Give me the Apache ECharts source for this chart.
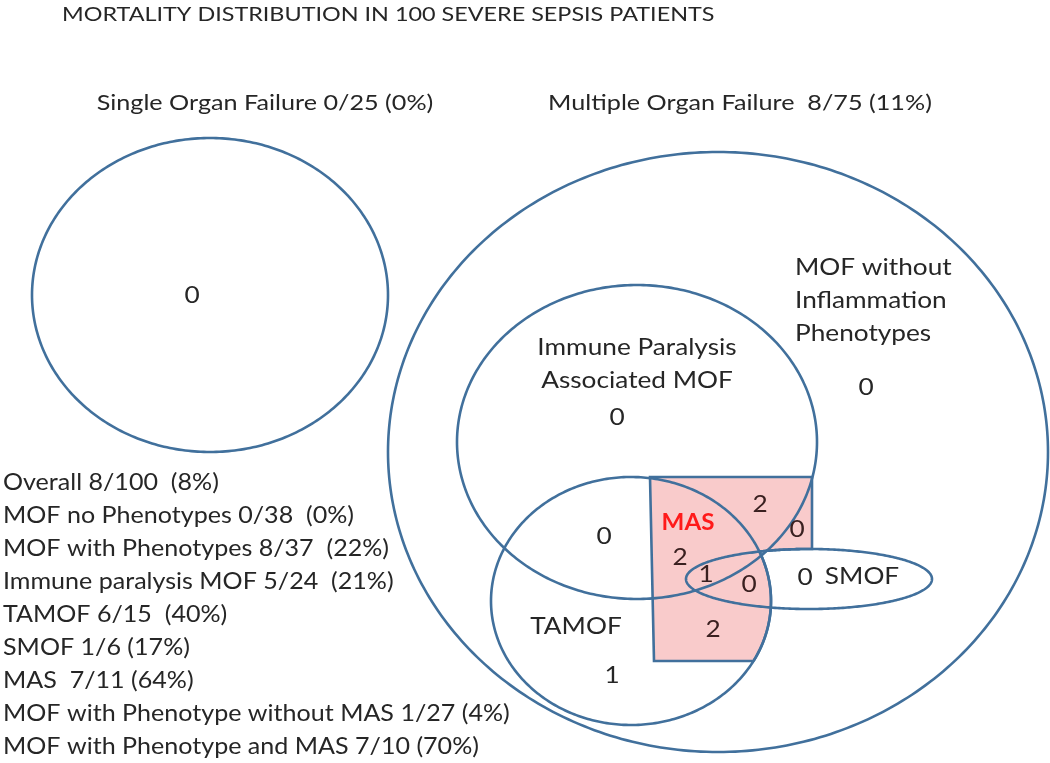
<!DOCTYPE html>
<html>
<head>
<meta charset="utf-8">
<script src="https://cdn.jsdelivr.net/npm/echarts@6/dist/echarts.min.js"></script>
<style>
html,body{margin:0;padding:0;background:#fff;}
#chart{width:1050px;height:763px;}
</style>
</head>
<body>
<div id="chart"></div>
<script>
// ---------- DATA ----------
const chartTitle = 'MORTALITY DISTRIBUTION IN 100 SEVERE SEPSIS PATIENTS';
const groupLabels = ['Single Organ Failure 0/25 (0%)', 'Multiple Organ Failure  8/75 (11%)'];
const setNames = ['Single Organ Failure', 'Multiple Organ Failure', 'Immune Paralysis Associated MOF', 'TAMOF', 'SMOF'];
const setLabels = ['MOF without\nInflammation\nPhenotypes', 'Immune Paralysis\nAssociated MOF', 'TAMOF', 'SMOF', 'MAS'];
// deaths per Venn region
const regionNames = ['SOF', 'MOF no phenotype', 'IP only', 'IP+TAMOF', 'IP+MAS', 'MAS only (right)', 'IP+TAMOF+MAS', 'IP+TAMOF+SMOF+MAS', 'TAMOF+SMOF+MAS', 'SMOF only', 'TAMOF+MAS', 'TAMOF only'];
const regionDeaths = [0, 0, 0, 0, 2, 0, 2, 1, 0, 0, 2, 1];
const statLines = [
  'Overall 8/100  (8%)',
  'MOF no Phenotypes 0/38  (0%)',
  'MOF with Phenotypes 8/37  (22%)',
  'Immune paralysis MOF 5/24  (21%)',
  'TAMOF 6/15  (40%)',
  'SMOF 1/6 (17%)',
  'MAS  7/11 (64%)',
  'MOF with Phenotype without MAS 1/27 (4%)',
  'MOF with Phenotype and MAS 7/10 (70%)'
];

// ---------- LAYOUT (diagram geometry, canvas units) ----------
const ellipseLayout = [ // cx, cy, rx, ry
  [210, 295, 178, 157],
  [718, 452, 330, 300],
  [637, 442, 180, 157],
  [631, 601, 140, 124],
  [809, 579, 123, 30]
];
const masRect = {x0: 650, x1: 812, y0: 477, y1: 661, x0b: 654};
const regionPos = [[192,296],[866,388],[617,418],[604,537],[760,505],[797,530],[680,558],[706,575],[749,585],[805,578],[713,630],[612,676]];
const setLabelPos = [[795,301,'left'],[637,364,'center'],[576,627,'center'],[862,577,'center'],[688,523,'center']];
const groupLabelPos = [[265,103],[740,103]];
const statTop = 483, statStep = 32.9;

const FONT = 'Lato, "Open Sans", sans-serif';
const TEXT = '#262626';
const LINE = '#41709c';

const chart = echarts.init(document.getElementById('chart'));

function ellipsePts(e, api, n) {
  const pts = [];
  for (let i = 0; i < n; i++) {
    const t = i / n * Math.PI * 2;
    pts.push(api.coord([e[0] + e[2] * Math.cos(t), e[1] + e[3] * Math.sin(t)]));
  }
  return pts;
}
function inside(e, x, y) {
  const dx = (x - e[0]) / e[2], dy = (y - e[1]) / e[3];
  return dx * dx + dy * dy <= 1;
}
function masPts(api) {
  const T = ellipseLayout[3], S = ellipseLayout[4];
  const pts = [[masRect.x0, masRect.y0], [masRect.x1, masRect.y0]];
  let x = masRect.x1, last = null;
  while (x > 600) {
    const dx = (x - S[0]) / S[2];
    const y = S[1] - S[3] * Math.sqrt(Math.max(0, 1 - dx * dx));
    pts.push([x, y]);
    if (inside(T, x, y)) { last = [x, y]; break; }
    x -= 0.5;
  }
  let t = Math.atan2((last[1] - T[1]) / T[3], (last[0] - T[0]) / T[2]);
  while (true) {
    const px = T[0] + T[2] * Math.cos(t), py = T[1] + T[3] * Math.sin(t);
    if (py >= masRect.y1) { pts.push([px, masRect.y1]); break; }
    pts.push([px, py]);
    t += 0.01;
  }
  pts.push([masRect.x0b, masRect.y1]);
  return pts.map(p => api.coord(p));
}
function textEl(api, text, size, sx, align, extra) {
  const p = api.coord([api.value(0), api.value(1)]);
  return {
    type: 'text', x: p[0], y: p[1], scaleX: sx,
    style: Object.assign({text: text, fontFamily: FONT, fontSize: size, fill: TEXT, align: align, verticalAlign: 'middle'}, extra || {})
  };
}

const option = {
  animation: false,
  backgroundColor: '#fff',
  grid: {left: 0, right: 0, top: 0, bottom: 0},
  xAxis: {type: 'value', min: 0, max: 1050, show: false},
  yAxis: {type: 'value', min: 0, max: 763, inverse: true, show: false},
  series: [
    { // MAS region fill
      type: 'custom', z: 1,
      data: [[0]],
      renderItem: (params, api) => ({
        type: 'polygon',
        shape: {points: masPts(api)},
        style: {fill: '#f9cbcb', stroke: LINE, lineWidth: 2.6}
      })
    },
    { // set ellipses
      type: 'custom', z: 2,
      data: setNames.map((n, i) => [i]),
      renderItem: (params, api) => ({
        type: 'polygon',
        shape: {points: ellipsePts(ellipseLayout[params.dataIndex], api, 360)},
        style: {fill: 'none', stroke: LINE, lineWidth: 2.6}
      })
    },
    { // region death counts
      type: 'custom', z: 3,
      data: regionDeaths.map((v, i) => [regionPos[i][0], regionPos[i][1], v]),
      renderItem: (params, api) => textEl(api, String(api.value(2)), 23, 1.14, 'center',
        params.dataIndex >= 4 && params.dataIndex <= 10 && params.dataIndex !== 9 ? {fill: '#3a2020'} : null)
    },
    { // set labels
      type: 'custom', z: 3,
      data: setLabels.map((s, i) => [setLabelPos[i][0], setLabelPos[i][1], i]),
      renderItem: (params, api) => {
        const i = params.dataIndex;
        const isMas = setLabels[i] === 'MAS';
        return textEl(api, setLabels[i], 23, isMas ? 1.05 : 1.14, setLabelPos[i][2],
          {fontWeight: isMas ? 'bold' : 'normal', fill: isMas ? '#ff1a1a' : TEXT, lineHeight: 33});
      }
    },
    { // group labels
      type: 'custom', z: 3,
      data: groupLabels.map((s, i) => [groupLabelPos[i][0], groupLabelPos[i][1], i]),
      renderItem: (params, api) => textEl(api, groupLabels[params.dataIndex], 22, 1.145, 'center')
    },
    { // statistics lines
      type: 'custom', z: 3,
      data: statLines.map((s, i) => [3, statTop + i * statStep, i]),
      renderItem: (params, api) => textEl(api, statLines[params.dataIndex], 23, 1.09, 'left')
    },
    { // title
      type: 'custom', z: 3,
      data: [[62, 15]],
      renderItem: (params, api) => textEl(api, chartTitle, 19, 1.23, 'left')
    }
  ]
};
chart.setOption(option);
</script>
</body>
</html>
